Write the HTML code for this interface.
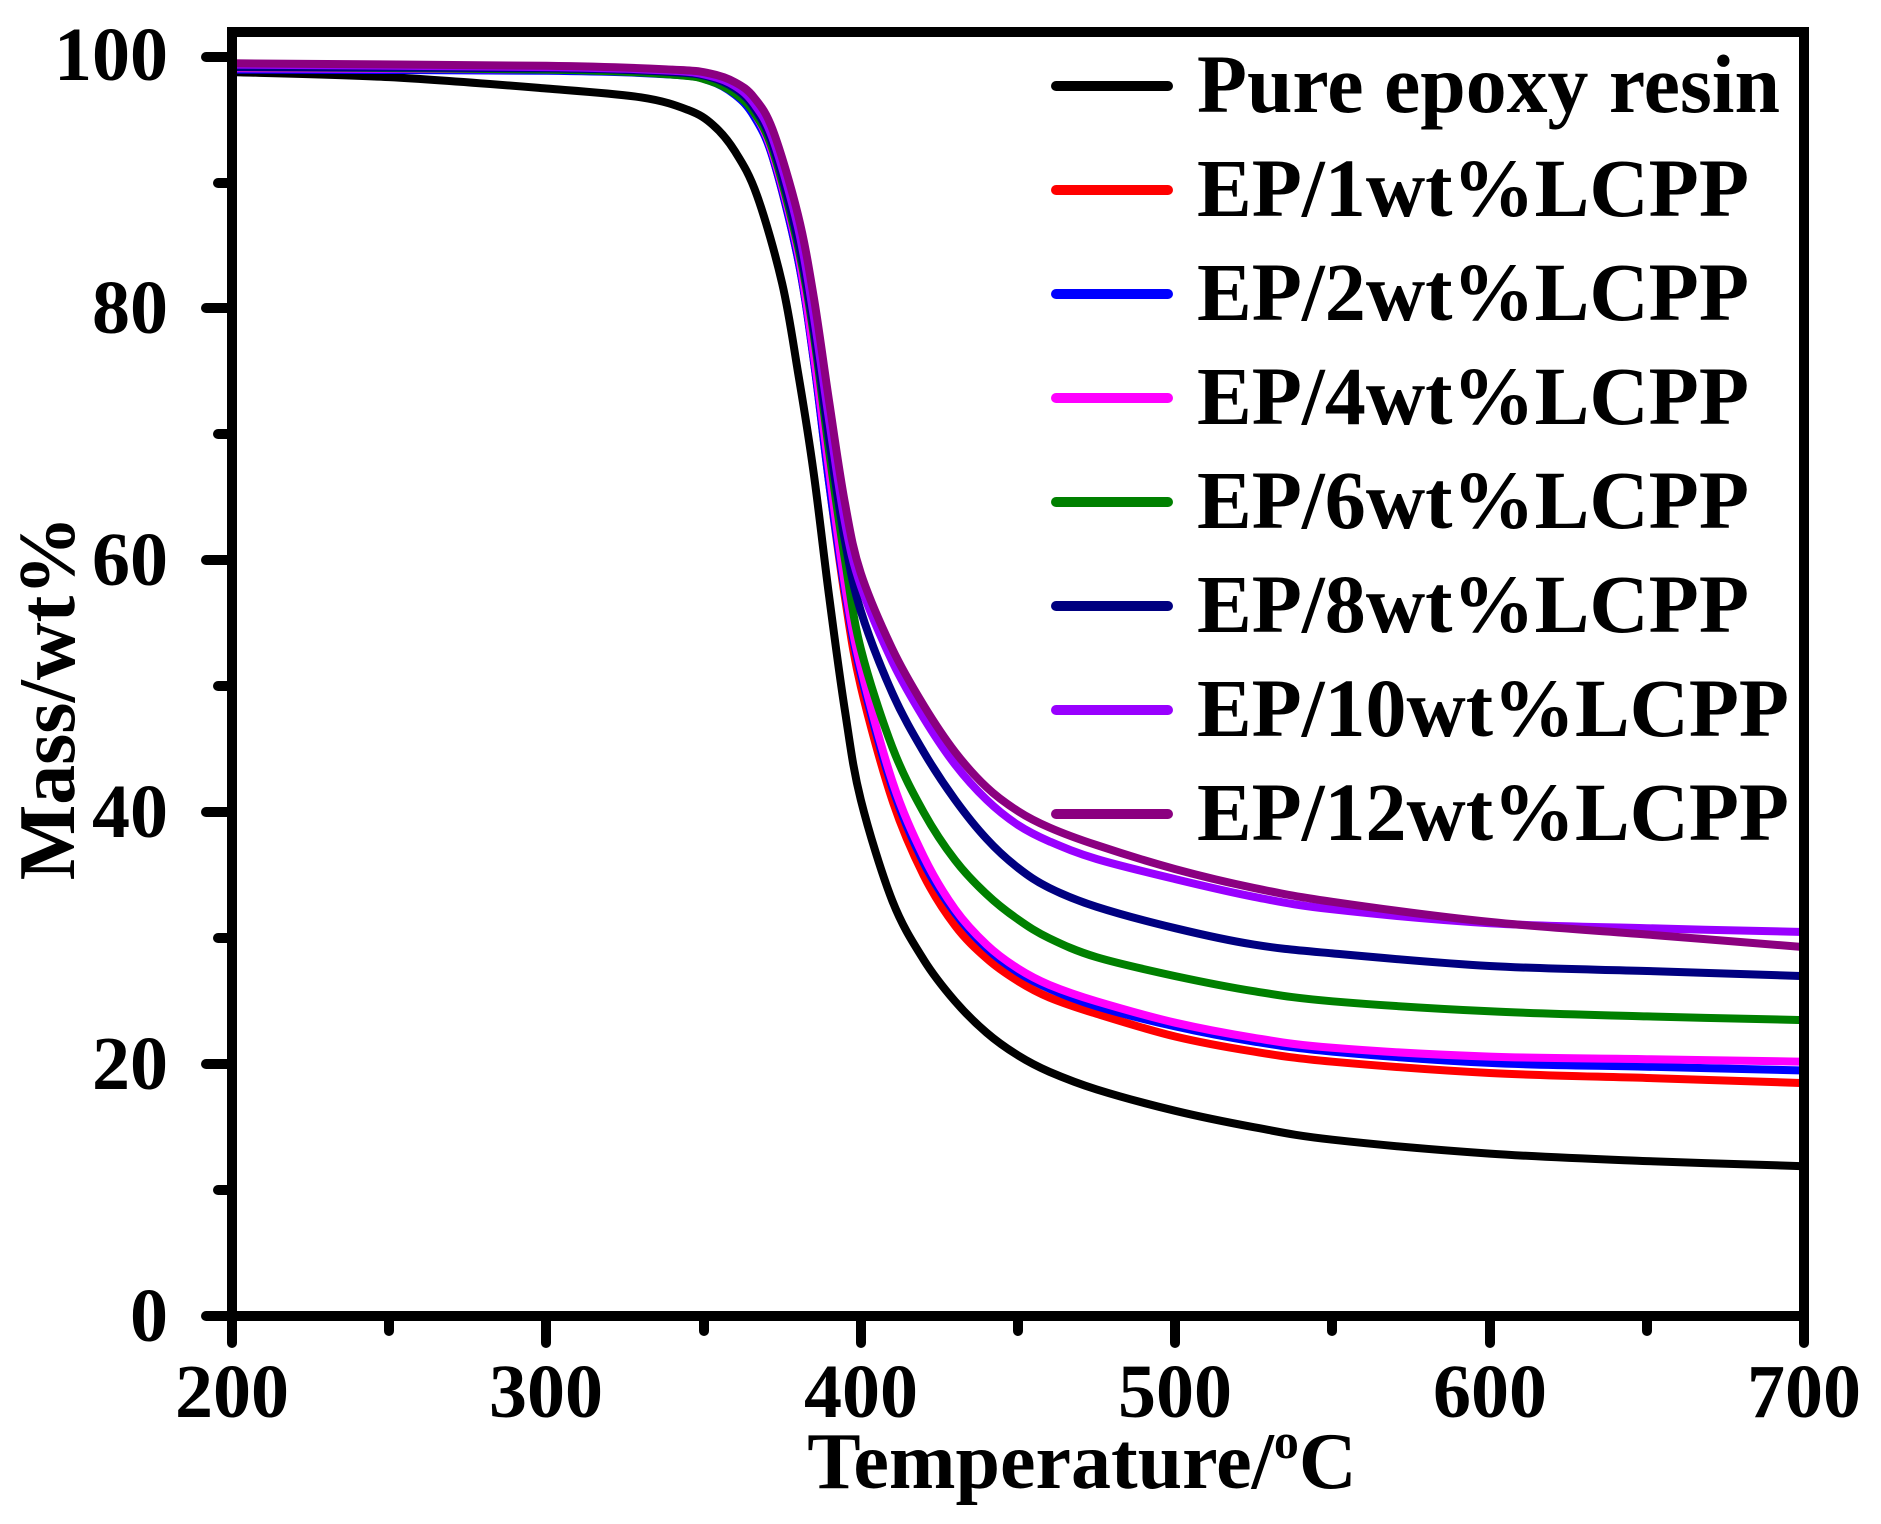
<!DOCTYPE html>
<html><head><meta charset="utf-8"><style>
html,body{margin:0;padding:0;background:#fff;}
svg{display:block;}
text{font-family:"Liberation Serif",serif;font-weight:bold;fill:#000;}
</style></head><body>
<svg id="s" width="1881" height="1524" viewBox="0 0 1881 1524" xmlns="http://www.w3.org/2000/svg">
<g id="curves" fill="none" stroke-width="8" stroke-linejoin="round" stroke-linecap="round"></g>
<rect x="232" y="32" width="1572" height="1284" fill="none" stroke="#000" stroke-width="10"/>
<g stroke="#000" stroke-width="10" stroke-linecap="round">
<line x1="232" y1="1316" x2="232" y2="1343"/><line x1="546" y1="1316" x2="546" y2="1343"/>
<line x1="861" y1="1316" x2="861" y2="1343"/><line x1="1175" y1="1316" x2="1175" y2="1343"/>
<line x1="1490" y1="1316" x2="1490" y2="1343"/><line x1="1804" y1="1316" x2="1804" y2="1343"/>
<line x1="389" y1="1316" x2="389" y2="1331"/><line x1="704" y1="1316" x2="704" y2="1331"/>
<line x1="1018" y1="1316" x2="1018" y2="1331"/><line x1="1332" y1="1316" x2="1332" y2="1331"/>
<line x1="1647" y1="1316" x2="1647" y2="1331"/>
<line x1="206" y1="57" x2="232" y2="57"/><line x1="206" y1="308" x2="232" y2="308"/>
<line x1="206" y1="560" x2="232" y2="560"/><line x1="206" y1="812" x2="232" y2="812"/>
<line x1="206" y1="1064" x2="232" y2="1064"/><line x1="206" y1="1316" x2="232" y2="1316"/>
<line x1="218" y1="183" x2="232" y2="183"/><line x1="218" y1="434" x2="232" y2="434"/>
<line x1="218" y1="686" x2="232" y2="686"/><line x1="218" y1="938" x2="232" y2="938"/>
<line x1="218" y1="1190" x2="232" y2="1190"/>
</g>
<g font-size="76" text-anchor="end">
<text x="168" y="80">100</text><text x="168" y="333">80</text><text x="168" y="585">60</text>
<text x="168" y="837">40</text><text x="168" y="1089">20</text><text x="168" y="1341">0</text>
</g>
<g font-size="76" text-anchor="middle">
<text x="232" y="1417">200</text><text x="546" y="1417">300</text><text x="861" y="1417">400</text>
<text x="1175" y="1417">500</text><text x="1490" y="1417">600</text><text x="1804" y="1417">700</text>
</g>
<text x="1082" y="1488" font-size="80" text-anchor="middle">Temperature/<tspan font-size="50" dy="-30">o</tspan><tspan dy="30">C</tspan></text>
<text transform="translate(74,698) rotate(-90)" font-size="80" text-anchor="middle">Mass/wt%</text>
<g id="legend" font-size="83"></g>
</svg>
<script>
var X=function(t){return 232+(t-200)*3.144;};
var Y=function(m){return 1316-m*12.59;};
var series=[
["#000","Pure epoxy resin",583,[[200,98.8],[250,98.4],[300,97.5],[330,96.8],[345,95.8],[353,94.6],[360,92.5],[367,89],[375,82],[380,75],[385,67],[390,57],[395,48],[400,41],[410,33],[420,28.3],[430,25],[440,22.5],[450,20.7],[460,19.4],[475,18],[500,16.3],[525,15],[550,14],[600,12.9],[650,12.3],[700,11.9]]],
["#ff0000","EP/1wt%LCPP",552,[[200,99.3],[300,99.1],[340,98.8],[352,98.3],[360,97.2],[366,95.5],[372,92],[380,84],[385,76],[390,66],[395,57],[400,50],[410,41],[420,35],[430,31],[440,28.4],[450,26.6],[460,25.3],[475,24],[500,22.2],[525,21],[550,20.2],[600,19.3],[650,18.9],[700,18.5]]],
["#0000ff","EP/2wt%LCPP",552,[[200,99],[300,98.9],[340,98.6],[352,98.1],[360,97],[366,95.3],[372,92],[380,84],[385,76],[390,66],[395,57.5],[400,51],[410,42],[420,36],[430,32],[440,29.2],[450,27.3],[460,26],[475,24.6],[500,23],[525,21.8],[550,21],[600,20.1],[650,19.8],[700,19.5]]],
["#ff00ff","EP/4wt%LCPP",552,[[200,99.1],[300,99],[340,98.7],[352,98.2],[360,97.2],[366,95.6],[372,92.3],[380,84.5],[385,76.5],[390,67],[395,58],[400,51.5],[410,42.5],[420,36.5],[430,32.3],[440,29.5],[450,27.6],[460,26.3],[475,25],[500,23.3],[525,22.1],[550,21.3],[600,20.6],[650,20.4],[700,20.2]]],
["#008000","EP/6wt%LCPP",552,[[200,99.2],[300,99],[340,98.6],[352,98.1],[360,97.1],[366,95.6],[372,92.6],[380,85],[385,78],[390,68.5],[395,60],[400,53],[410,45.2],[420,40],[430,36.2],[440,33.5],[450,31.5],[460,30],[475,28.5],[500,27],[525,25.8],[550,25],[600,24.2],[650,23.8],[700,23.5]]],
["#000080","EP/8wt%LCPP",552,[[200,99.2],[300,99.1],[340,98.8],[352,98.4],[360,97.5],[366,96],[372,93],[380,85.5],[385,78.5],[390,69.5],[395,61.5],[400,56],[410,49.5],[420,44.8],[430,41],[440,37.9],[450,35.6],[460,34],[475,32.5],[500,30.8],[525,29.5],[550,28.8],[600,27.8],[650,27.4],[700,27]]],
["#9900ff","EP/10wt%LCPP",592,[[200,99.4],[300,99.2],[340,98.9],[352,98.5],[360,97.7],[366,96.3],[372,93.5],[380,86.5],[385,79.5],[390,71],[395,63],[400,58],[410,52],[420,47.5],[430,43.8],[440,41],[450,39],[460,37.7],[475,36.3],[500,34.7],[525,33.3],[550,32.3],[600,31.2],[650,30.8],[700,30.5]]],
["#8b0080","EP/12wt%LCPP",592,[[200,99.5],[300,99.3],[340,99],[352,98.7],[360,98],[366,96.8],[372,94.2],[380,87.5],[385,81],[390,72.5],[395,64.5],[400,59],[410,53],[420,48.5],[430,44.8],[440,42],[450,40.1],[460,38.8],[475,37.4],[500,35.5],[525,34],[550,32.9],[600,31.3],[650,30.3],[700,29.3]]]
];
function path(pts){
 var p=pts.map(function(d){return [X(d[0]),Y(d[1])];});
 var s="M"+p[0][0].toFixed(1)+","+p[0][1].toFixed(1);
 for(var i=0;i<p.length-1;i++){
  var p0=p[i-1]||p[i],p1=p[i],p2=p[i+1],p3=p[i+2]||p[i+1];
  var c1=[p1[0]+(p2[0]-p0[0])/6,p1[1]+(p2[1]-p0[1])/6];
  var c2=[p2[0]-(p3[0]-p1[0])/6,p2[1]-(p3[1]-p1[1])/6];
  s+="C"+c1[0].toFixed(1)+","+c1[1].toFixed(1)+" "+c2[0].toFixed(1)+","+c2[1].toFixed(1)+" "+p2[0].toFixed(1)+","+p2[1].toFixed(1);
 }
 return s;
}
var NS="http://www.w3.org/2000/svg";
var g=document.getElementById("curves"),lg=document.getElementById("legend");
series.forEach(function(s,i){
 var e=document.createElementNS(NS,"path");e.setAttribute("d",path(s[3]));e.setAttribute("stroke",s[0]);g.appendChild(e);
 var y=86+i*104;
 var l=document.createElementNS(NS,"line");l.setAttribute("x1",1056);l.setAttribute("x2",1168);l.setAttribute("y1",y);l.setAttribute("y2",y);
 l.setAttribute("stroke",s[0]);l.setAttribute("stroke-width",10);l.setAttribute("stroke-linecap","round");lg.appendChild(l);
 var t=document.createElementNS(NS,"text");t.setAttribute("x",1197);t.setAttribute("y",y+26);
 t.setAttribute("textLength",s[2]);t.setAttribute("lengthAdjust","spacingAndGlyphs");
 t.textContent=s[1];lg.appendChild(t);
});
</script>
</body></html>
